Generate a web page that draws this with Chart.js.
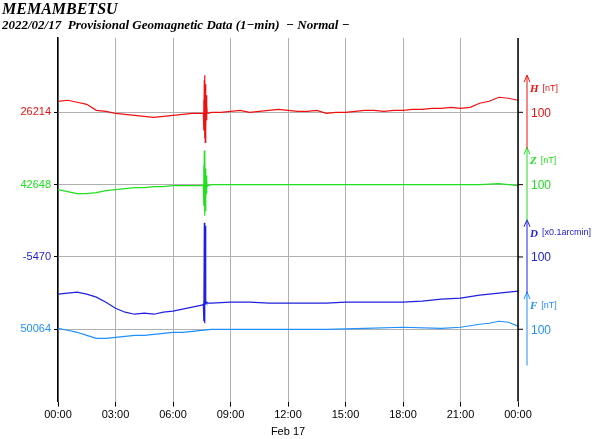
<!DOCTYPE html>
<html><head><meta charset="utf-8">
<script src="https://cdn.jsdelivr.net/npm/chart.js@4"></script>
<style>body{margin:0;background:#fff}#w{width:600px;height:439px}</style>
</head><body><div id="w"><canvas id="c"></canvas></div>
<script>
const hTimes=[0,30,60,90,120,150,180,210,240,270,300,330,360,390,420,450,455,456,457,458,459,460,461,462,463,464,465,466,467,470,480,510,540,570,600,630,660,690,720,750,780,810,840,870,900,930,960,990,1020,1050,1080,1110,1140,1170,1200,1230,1260,1290,1320,1350,1380,1410,1440];
const hValues=[299,300,298,296,290,289,287,286,285,284,283,284,285,286,287,287,287,300,270,320,262,325,258,316,270,305,280,295,288,287,288,288,289,290,288,289,290,291,290,289,289,290,287,288,288,289,290,290,289,290,290,291,291,292,292,293,292,293,297,299,303,302,300];
const zTimes=[0,30,60,90,120,150,180,210,240,270,300,330,360,390,420,450,455,456,457,458,459,460,461,462,463,464,465,466,467,470,480,600,720,840,960,1080,1200,1320,1380,1440];
const zValues=[211,209,207,207,208,210,211,212,213,213,214,214,215,215,215,215,215,235,195,250,185,245,190,232,200,225,207,220,214,215,216,216,216,216,216,216,216,216,217,215];
const dTimes=[0,30,60,90,120,150,180,210,240,270,300,330,360,390,420,450,455,456,457,458,459,460,461,462,463,464,465,466,470,480,540,600,660,720,780,840,900,960,1020,1080,1140,1200,1260,1320,1350,1380,1410,1440];
const dValues=[107,108,109,107,104,99,93,89,87,88,87,89,90,92,94,96,97,100,80,178,78,120,175,100,98,99,98,99,98,98,99,99,98,98,98,98,99,99,99,99,100,102,103,106,107,108,109,110];
const fTimes=[0,30,60,90,120,150,180,210,240,270,300,330,360,390,420,450,480,600,720,840,960,1080,1200,1260,1320,1350,1380,1410,1440];
const fValues=[73,71,69,66,63,63,64,65,66,66,67,68,69,69,70,71,72,72,72,72,73,74,73,74,77,78,80,79,75];
const baseLabels=['50064','-5470','42648','26214'];
const baseLevels=[72,144,216,288];
const comps=['F','D','Z','H'];
const units=['[nT]','[x0.1arcmin]','[nT]','[nT]'];
const colors=['#1e90ff','#2020e0','#20e020','#f01010'];
const xTickLabels=['00:00','03:00','06:00','09:00','12:00','15:00','18:00','21:00','00:00'];
const pts=(t,v)=>t.map((x,i)=>({x,y:v[i]}));
const ds=(t,v,c)=>({data:pts(t,v),borderColor:c,borderWidth:1.2,pointRadius:0,tension:0});
const deco={id:'deco',afterDraw(ch){
  const c=ch.ctx,a=ch.chartArea,y=ch.scales.y;
  c.save();
  c.fillStyle='#000';c.font='italic bold 16px "Liberation Serif"';c.textBaseline='alphabetic';
  c.fillText('MEMAMBETSU',2,14);
  c.font='italic bold 13px "Liberation Serif"';
  c.fillText('2022/02/17  Provisional Geomagnetic Data (1\u2212min)  \u2212 Normal \u2212',2,29);
  c.strokeStyle='#000';c.lineWidth=1.5;c.beginPath();c.moveTo(a.right,a.top);c.lineTo(a.right,a.bottom);c.stroke();
  baseLevels.forEach((lv,i)=>{
    const py=y.getPixelForValue(lv),x0=527;
    const bot=y.getPixelForValue(lv-36),top=y.getPixelForValue(lv+37);
    c.strokeStyle=colors[i];c.fillStyle=colors[i];c.lineWidth=1;
    c.beginPath();c.moveTo(x0,bot);c.lineTo(x0,top);c.stroke();
    c.beginPath();c.moveTo(x0-3,top+7);c.lineTo(x0,top);c.lineTo(x0+3,top+7);c.stroke();
    c.beginPath();c.moveTo(a.right,py);c.lineTo(a.right+5,py);c.strokeStyle='#000';c.stroke();
    c.fillStyle=colors[i];
    c.font='12px "Liberation Sans"';c.textBaseline='middle';c.fillText('100',531,py+1);
    c.font='italic bold 11px "Liberation Serif"';c.fillText(comps[i],530,py-23);
    const w=c.measureText(comps[i]).width;
    c.font='9px "Liberation Sans"';c.fillText(units[i],530+w+4,py-24);
  });
  c.restore();
}};
new Chart(document.getElementById('c'),{type:'line',
 data:{datasets:[ds(hTimes,hValues,colors[3]),ds(zTimes,zValues,colors[2]),ds(dTimes,dValues,colors[1]),ds(fTimes,fValues,colors[0])]},
 options:{animation:false,responsive:true,maintainAspectRatio:false,
  layout:{padding:{top:38,right:82,left:0,bottom:0}},
  plugins:{legend:{display:false},tooltip:{enabled:false}},
  scales:{
   x:{type:'linear',min:0,max:1440,afterBuildTicks:s=>{s.ticks=xTickLabels.map((l,i)=>({value:i*180}));},
      ticks:{callback:(v,i)=>xTickLabels[i],color:'#000',font:{family:'Liberation Sans',size:11},maxRotation:0,padding:2},
      grid:{color:'#b0b0b0',tickLength:5,tickColor:'#000'},border:{display:false},
      title:{display:true,text:'Feb 17',color:'#000',font:{family:'Liberation Sans',size:11},padding:{top:2,bottom:0}}},
   y:{min:0,max:362,afterBuildTicks:s=>{s.ticks=baseLevels.map(v=>({value:v}));},afterFit:s=>{s.width=58;},
      ticks:{callback:(v,i)=>baseLabels[i],color:c=>colors[c.index],font:{family:'Liberation Sans',size:11},padding:3},
      grid:{color:'#b0b0b0',tickLength:4,tickColor:'#000'},border:{display:true,color:'#000',width:1.5}}
  }},plugins:[deco]});
</script></body></html>
